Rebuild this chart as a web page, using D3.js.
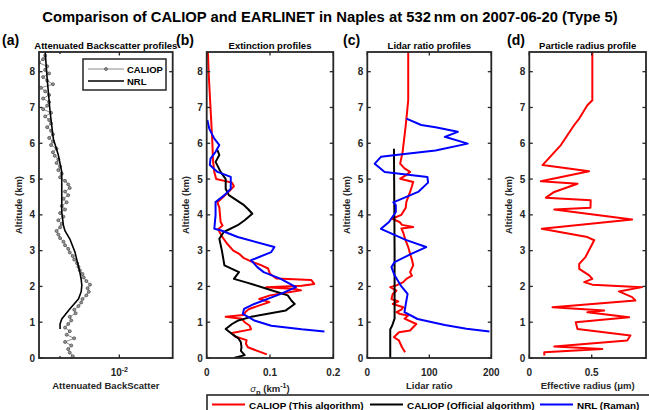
<!DOCTYPE html>
<html>
<head>
<meta charset="utf-8">
<script src="https://cdn.jsdelivr.net/npm/d3@7"></script>
<style>
body { margin: 0; background: #fff; }
svg { display: block; }
text { font-family: "Liberation Sans", Arial, sans-serif; }
</style>
</head>
<body>
<svg id="chart" width="649" height="410"></svg>
<script>
// ---- data (altitude km, value) ----
var altTicks = [0, 1, 2, 3, 4, 5, 6, 7, 8];

// (a) attenuated backscatter
var bscCaliop = [
  [0.05,5.8e-3],[0.15,5.6e-3],[0.25,5.5e-3],[0.35,5.7e-3],[0.45,5.3e-3],[0.55,5.9e-3],[0.65,5.4e-3],[0.75,5.6e-3],
  [0.85,5.3e-3],[0.95,5.5e-3],[1.05,5.7e-3],[1.15,5.6e-3],[1.25,6.0e-3],[1.35,5.9e-3],[1.45,6.2e-3],[1.55,6.4e-3],
  [1.65,6.5e-3],[1.75,6.8e-3],[1.85,7.0e-3],[1.95,6.9e-3],[2.05,7.1e-3],[2.15,6.8e-3],[2.25,6.6e-3],[2.35,6.5e-3],
  [2.45,6.3e-3],[2.55,6.2e-3],[2.65,6.1e-3],[2.75,5.9e-3],[2.85,5.8e-3],[2.95,5.6e-3],[3.05,5.5e-3],[3.15,5.3e-3],
  [3.25,5.2e-3],[3.35,5.0e-3],[3.45,4.9e-3],[3.55,4.8e-3],[3.65,5.0e-3],[3.75,5.1e-3],[3.85,4.9e-3],[3.95,5.2e-3],
  [4.05,5.0e-3],[4.15,5.3e-3],[4.25,5.1e-3],[4.35,5.4e-3],[4.45,5.2e-3],[4.55,5.5e-3],[4.65,5.3e-3],[4.75,5.6e-3],
  [4.85,5.5e-3],[4.95,5.3e-3],[5.05,5.0e-3],[5.15,5.1e-3],[5.25,4.9e-3],[5.35,5.0e-3],[5.45,4.8e-3],[5.55,4.9e-3],
  [5.65,4.7e-3],[5.75,4.6e-3],[5.85,4.8e-3],[5.95,4.5e-3],[6.05,4.6e-3],[6.15,4.4e-3],[6.25,4.6e-3],[6.35,4.5e-3],
  [6.45,4.3e-3],[6.55,4.5e-3],[6.65,4.4e-3],[6.75,4.2e-3],[6.85,4.5e-3],[6.95,4.1e-3],[7.05,4.3e-3],[7.15,4.4e-3],
  [7.25,4.1e-3],[7.35,4.4e-3],[7.45,4.2e-3],[7.55,4.0e-3],[7.65,4.6e-3],[7.75,4.3e-3],[7.85,4.1e-3],[7.95,4.4e-3],
  [8.05,4.2e-3],[8.15,4.3e-3],[8.25,3.9e-3],[8.35,4.1e-3],[8.45,4.2e-3]
];
var bscNrl = [
  [0.81,5.0e-3],[0.95,5.0e-3],[1.09,5.1e-3],[1.37,5.6e-3],[1.65,6.2e-3],[1.85,6.4e-3],[2.03,6.45e-3],[2.2,6.4e-3],
  [2.4,6.3e-3],[2.96,5.95e-3],[3.33,5.6e-3],[3.55,5.3e-3],[3.7,5.2e-3],[4.08,5.1e-3],[4.55,5.1e-3],[5.2,5.1e-3],
  [5.67,4.9e-3],[6.13,4.62e-3],[6.88,4.45e-3],[7.8,4.3e-3],[8.55,4.2e-3]
];

// (b) extinction (km-1)
var extThisAlg = [
  [0.1,0.095],[0.2,0.08],[0.3,0.065],[0.4,0.062],[0.5,0.063],[0.6,0.045],[0.7,0.04],[0.8,0.07],[0.9,0.068],
  [1.0,0.06],[1.1,0.055],[1.15,0.03],[1.2,0.058],[1.3,0.062],[1.37,0.067],[1.45,0.08],[1.56,0.099],[1.65,0.083],
  [1.75,0.1],[1.89,0.149],[1.93,0.14],[1.98,0.094],[2.02,0.15],[2.07,0.17],[2.18,0.165],[2.22,0.11],[2.35,0.1],
  [2.5,0.097],[2.6,0.085],[2.7,0.07],[2.8,0.058],[2.9,0.052],[3.0,0.042],[3.2,0.032],[3.4,0.024],[3.6,0.018],
  [3.7,0.025],[3.8,0.022],[4.0,0.021],[4.2,0.02],[4.35,0.017],[4.5,0.026],[4.65,0.035],[4.8,0.043],[4.9,0.04],
  [5.0,0.015],[5.2,0.012],[5.5,0.01],[6.0,0.009],[7.0,0.006],[8.0,0.003],[8.55,0.002]
];
var extOfficial = [
  [0.0,0.043],[0.08,0.06],[0.2,0.054],[0.3,0.055],[0.44,0.054],[0.55,0.05],[0.63,0.043],[0.81,0.03],[0.95,0.04],
  [1.05,0.05],[1.15,0.07],[1.33,0.125],[1.51,0.139],[1.6,0.134],[1.75,0.128],[1.93,0.096],[2.1,0.065],[2.21,0.043],
  [2.4,0.051],[2.45,0.045],[2.59,0.028],[3.0,0.024],[3.33,0.02],[3.52,0.027],[3.71,0.049],[3.85,0.06],[4.03,0.072],
  [4.15,0.066],[4.27,0.059],[4.55,0.035],[4.73,0.03],[5.0,0.03],[5.2,0.022],[5.48,0.014],[5.67,0.02],[5.81,0.017]
];
var extRaman = [
  [0.74,0.186],[0.8,0.15],[0.9,0.102],[1.05,0.075],[1.23,0.057],[1.37,0.059],[1.51,0.075],[1.79,0.117],[1.98,0.141],
  [2.21,0.117],[2.4,0.09],[2.54,0.08],[2.73,0.07],[2.96,0.102],[3.1,0.107],[3.38,0.049],[3.57,0.022],[3.61,0.012],
  [3.99,0.014],[4.36,0.014],[4.55,0.028],[4.73,0.038],[5.06,0.038],[5.2,0.017],[5.39,0.005],[5.57,0.006],
  [5.76,0.014],[5.95,0.02],[6.13,0.012],[6.41,0.004],[6.65,0.001]
];

// (c) lidar ratio (sr)
var lrThisAlg = [
  [0.16,61],[0.3,56],[0.49,51],[0.58,43],[0.72,51],[0.77,69],[0.95,79],[1.1,60],[1.19,66],[1.23,53],[1.28,47],
  [1.35,55],[1.42,58],[1.51,41],[1.58,50],[1.65,39],[1.79,41],[1.88,47],[1.98,37],[2.03,47],[2.12,58],[2.21,63],
  [2.3,72],[2.4,69],[2.59,74],[2.75,72],[2.91,69],[3.1,66],[3.33,61],[3.5,58],[3.62,55],[3.66,74],[3.72,56],
  [3.8,52],[3.89,40],[4.0,55],[4.2,62],[4.36,63],[4.5,66],[4.64,69],[4.8,72],[4.92,74],[5.01,53],[5.1,62],
  [5.2,69],[5.3,60],[5.43,53],[5.76,57],[6.5,62],[7.2,66],[8.55,66]
];
var lrOfficial = [[0.0,37],[0.8,37],[0.9,40],[1.1,44],[3.0,44],[5.85,43]];
var lrRaman = [
  [0.74,197],[0.82,160],[0.92,125],[1.09,81],[1.28,60],[1.5,62],[1.79,65],[2.0,55],[2.31,44],[2.54,39],[2.68,44],
  [2.9,70],[3.1,95],[3.3,62],[3.61,22],[3.8,35],[4.08,46],[4.27,46],[4.35,42],[4.64,82],[4.9,98],[5.06,97],
  [5.2,28],[5.43,12],[5.62,22],[5.7,60],[5.8,110],[5.99,162],[6.18,125],[6.32,146],[6.45,110],[6.51,87],[6.69,63]
];

// (d) effective radius (um)
var radThisAlg = [
  [0.07,0.12],[0.16,0.12],[0.25,0.585],[0.32,0.2],[0.49,0.785],[0.63,0.81],[0.81,0.386],[1.0,0.372],[1.14,0.8],
  [1.28,0.465],[1.33,0.6],[1.42,0.186],[1.61,0.85],[1.7,0.824],[1.86,0.718],[1.98,0.904],[2.05,0.505],[2.12,0.44],
  [2.21,0.505],[2.31,0.48],[2.49,0.4],[2.63,0.4],[2.82,0.45],[3.29,0.52],[3.38,0.465],[3.61,0.1],[3.87,0.824],
  [4.15,0.2],[4.2,0.49],[4.41,0.492],[4.48,0.133],[4.64,0.2],[4.87,0.386],[4.94,0.093],[5.22,0.479],[5.39,0.106],
  [5.95,0.253],[6.51,0.36],[6.69,0.4],[7.06,0.465],[7.2,0.505],[8.55,0.505]
];

var legendNames = ["CALIOP (This algorithm)", "CALIOP (Official algorithm)", "NRL (Raman)"];
var colors = ["#ff0000", "#000000", "#0000ff"];

// ---- layout ----
var plotTop = 52, plotBot = 358, axisCol = "#262626";
var svg = d3.select("#chart");
var y = d3.scaleLinear().domain([0, 8.55]).range([plotBot, plotTop]);

svg.append("text").attr("x", 330).attr("y", 22).attr("text-anchor", "middle")
  .style("font-size", "14.8px").style("font-weight", "bold")
  .text("Comparison of CALIOP and EARLINET in Naples at 532\u2009nm on 2007-06-20 (Type 5)");

var panels = [
  {id: "a", x0: 39, x1: 172.7, log: true, dom: [Math.pow(10, -2.408), Math.pow(10, -1.729)], ticks: [0.005, 0.01],
   title: "Attenuated Backscatter profiles", letterX: 2, labX: 22},
  {id: "b", x0: 206.7, x1: 333.3, dom: [0, 0.2], ticks: [0, 0.1, 0.2], title: "Extinction profiles", letterX: 176, labX: 189},
  {id: "c", x0: 367.3, x1: 491.3, dom: [0, 200], ticks: [0, 100, 200], title: "Lidar ratio profiles", letterX: 343, labX: 350},
  {id: "d", x0: 529.3, x1: 646, dom: [0, 0.935], ticks: [0, 0.5], title: "Particle radius profile", letterX: 507, labX: 512}
];

panels.forEach(function(p) {
  p.x = (p.log ? d3.scaleLog() : d3.scaleLinear()).domain(p.dom).range([p.x0, p.x1]);
  var g = svg.append("g");
  p.g = g;
  svg.append("clipPath").attr("id", "clip-" + p.id).append("rect")
    .attr("x", p.x0).attr("y", plotTop).attr("width", p.x1 - p.x0).attr("height", plotBot - plotTop);
  p.plot = g.append("g").attr("clip-path", "url(#clip-" + p.id + ")");

  // panel letter and title
  svg.append("text").attr("x", p.letterX).attr("y", 45).style("font-size", "14px").style("font-weight", "bold")
    .text("(" + p.id + ")");
  svg.append("text").attr("x", (p.x0 + p.x1) / 2).attr("y", 48.5).attr("text-anchor", "middle")
    .style("font-size", "9.5px").style("font-weight", "bold").text(p.title);

  // y ticks
  altTicks.forEach(function(t) {
    g.append("line").attr("x1", p.x0).attr("x2", p.x0 + 3.5).attr("y1", y(t)).attr("y2", y(t)).attr("stroke", axisCol).attr("stroke-width", 1.3);
    g.append("line").attr("x1", p.x1).attr("x2", p.x1 - 3.5).attr("y1", y(t)).attr("y2", y(t)).attr("stroke", axisCol).attr("stroke-width", 1.3);
    g.append("text").attr("x", p.x0 - 4).attr("y", y(t) + 3.6).attr("text-anchor", "end")
      .style("font-size", "10px").style("font-weight", "bold").attr("fill", axisCol).text(t);
  });
  // x ticks
  p.ticks.forEach(function(t) {
    var minor = p.log && t !== 0.01;
    var len = minor ? 2 : 3.5;
    g.append("line").attr("x1", p.x(t)).attr("x2", p.x(t)).attr("y1", plotBot).attr("y2", plotBot - len).attr("stroke", axisCol).attr("stroke-width", 1.3);
    g.append("line").attr("x1", p.x(t)).attr("x2", p.x(t)).attr("y1", plotTop).attr("y2", plotTop + len).attr("stroke", axisCol).attr("stroke-width", 1.3);
    if (p.log) {
      if (!minor) {
        var tx = g.append("text").attr("x", p.x(t)).attr("y", 376).attr("text-anchor", "middle")
          .style("font-size", "10px").style("font-weight", "bold").attr("fill", axisCol);
        tx.append("tspan").text("10");
        tx.append("tspan").attr("dy", -4.5).style("font-size", "7px").text("-2");
      }
    } else {
      g.append("text").attr("x", p.x(t)).attr("y", 376).attr("text-anchor", "middle")
        .style("font-size", "10px").style("font-weight", "bold").attr("fill", axisCol).text(t);
    }
  });
  g.append("rect").attr("x", p.x0).attr("y", plotTop).attr("width", p.x1 - p.x0).attr("height", plotBot - plotTop)
    .attr("fill", "none").attr("stroke", axisCol).attr("stroke-width", 1.8);

  svg.append("text").attr("transform", "translate(" + p.labX + "," + ((plotTop + plotBot) / 2) + ") rotate(-90)")
    .attr("text-anchor", "middle").style("font-size", "9.5px").style("font-weight", "bold").attr("fill", axisCol)
    .text("Altitude (km)");
});

function drawLine(p, data, color, width) {
  var line = d3.line().x(function(d) { return p.x(d[1]); }).y(function(d) { return y(d[0]); });
  p.plot.append("path").datum(data).attr("d", line).attr("fill", "none")
    .attr("stroke", color).attr("stroke-width", width).attr("stroke-linejoin", "round");
}

// (a)
var pa = panels[0];
drawLine(pa, bscCaliop, "#8c8c8c", 1);
pa.plot.selectAll("circle.cal").data(bscCaliop).enter().append("circle").attr("class", "cal")
  .attr("cx", function(d) { return pa.x(d[1]); }).attr("cy", function(d) { return y(d[0]); })
  .attr("r", 1.5).attr("fill", "#999").attr("stroke", "#444").attr("stroke-width", 0.7);
drawLine(pa, bscNrl, "#000", 1.6);

// (b)
drawLine(panels[1], extThisAlg, colors[0], 2);
drawLine(panels[1], extOfficial, colors[1], 2);
drawLine(panels[1], extRaman, colors[2], 2);
// (c)
drawLine(panels[2], lrThisAlg, colors[0], 2);
drawLine(panels[2], lrOfficial, colors[1], 2);
drawLine(panels[2], lrRaman, colors[2], 2);
// (d)
drawLine(panels[3], radThisAlg, colors[0], 2);

// legend (a)
var lg = svg.append("g");
lg.append("rect").attr("x", 83).attr("y", 59).attr("width", 83).attr("height", 31)
  .attr("fill", "#fff").attr("stroke", axisCol).attr("stroke-width", 1.5);
lg.append("line").attr("x1", 88).attr("x2", 124).attr("y1", 69).attr("y2", 69).attr("stroke", "#8c8c8c").attr("stroke-width", 1);
lg.append("circle").attr("cx", 106).attr("cy", 69).attr("r", 1.5).attr("fill", "#999").attr("stroke", "#444").attr("stroke-width", 0.7);
lg.append("text").attr("x", 127).attr("y", 72.5).style("font-size", "9.5px").style("font-weight", "bold").text("CALIOP");
lg.append("line").attr("x1", 88).attr("x2", 124).attr("y1", 81).attr("y2", 81).attr("stroke", "#000").attr("stroke-width", 1.6);
lg.append("text").attr("x", 127).attr("y", 84.5).style("font-size", "9.5px").style("font-weight", "bold").text("NRL");

// x axis titles
var xt = svg.append("g").style("font-weight", "bold").style("font-size", "9.5px").attr("fill", axisCol).attr("text-anchor", "middle");
xt.append("text").attr("x", (pa.x0 + pa.x1) / 2).attr("y", 389).text("Attenuated BackScatter");
var sig = xt.append("text").attr("x", (panels[1].x0 + panels[1].x1) / 2).attr("y", 392);
sig.append("tspan").style("font-style", "italic").style("font-weight", "normal").text("\u03c3");
sig.append("tspan").attr("dy", 3).style("font-size", "7.5px").text("p");
sig.append("tspan").attr("dy", -3).text(" (km");
sig.append("tspan").attr("dy", -4).style("font-size", "7px").text("-1");
sig.append("tspan").attr("dy", 4).text(")");
xt.append("text").attr("x", (panels[2].x0 + panels[2].x1) / 2).attr("y", 389).text("Lidar ratio");
xt.append("text").attr("x", (panels[3].x0 + panels[3].x1) / 2).attr("y", 389).text("Effective radius (\u03bcm)");

// bottom legend
var bl = svg.append("g");
bl.append("rect").attr("x", 207).attr("y", 395).attr("width", 470).attr("height", 24)
  .attr("fill", "#fff").attr("stroke", axisCol).attr("stroke-width", 1.6);
var legX = [212, 370, 540];
legendNames.forEach(function(n, i) {
  bl.append("line").attr("x1", legX[i]).attr("x2", legX[i] + 33).attr("y1", 404.5).attr("y2", 404.5)
    .attr("stroke", colors[i]).attr("stroke-width", 2);
  bl.append("text").attr("x", legX[i] + 37).attr("y", 408.5).style("font-size", "9.9px").style("font-weight", "bold").text(n);
});
</script>
</body>
</html>
